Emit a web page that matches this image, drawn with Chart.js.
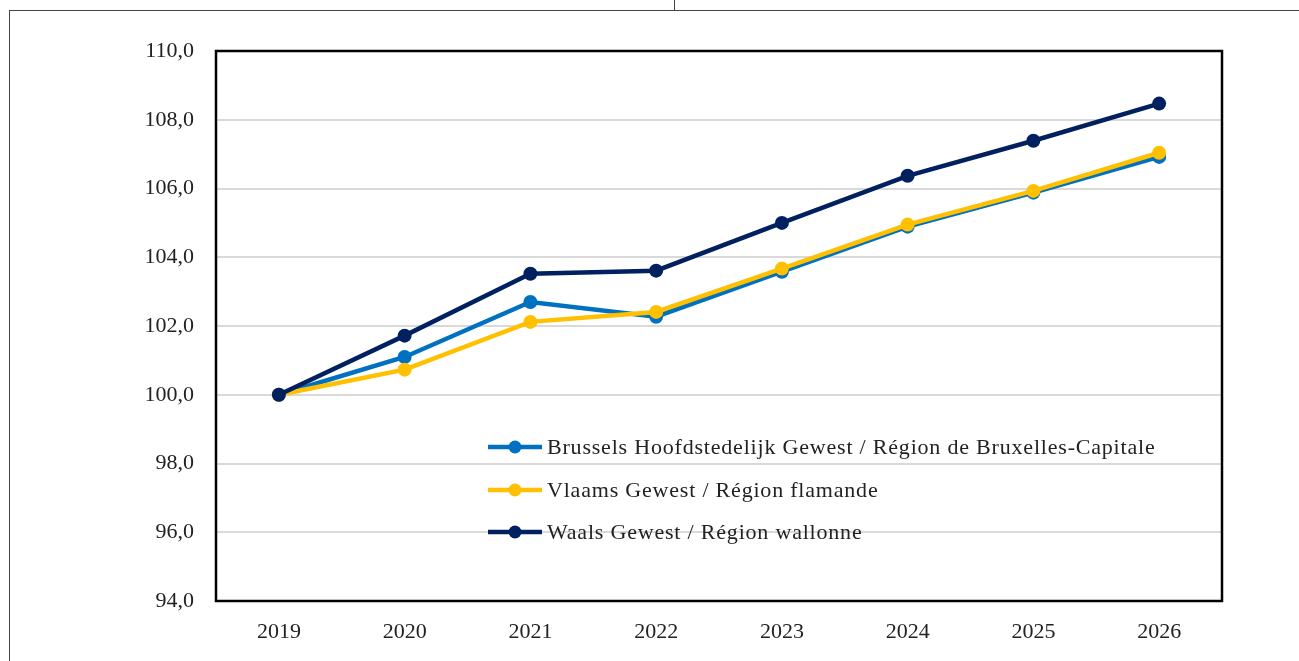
<!DOCTYPE html>
<html>
<head>
<meta charset="utf-8">
<script src="https://cdn.jsdelivr.net/npm/chart.js@4/dist/chart.umd.min.js"></script>
<style>
  html, body { margin: 0; padding: 0; background: #fff; }
  #wrap { position: relative; width: 1299px; height: 661px; overflow: hidden; }
  #chart { position: absolute; left: 0; top: 0; }
  .frameTop { position: absolute; left: 9px; top: 10px; width: 1290px; height: 0; border-top: 1px solid #444; }
  .frameLeft { position: absolute; left: 9px; top: 10px; width: 0; height: 651px; border-left: 1px solid #444; }
  .frameTick { position: absolute; left: 674px; top: 0; width: 0; height: 10px; border-left: 1px solid #444; }
</style>
</head>
<body>
<div id="wrap">
  <canvas id="chart" width="1299" height="661"></canvas>
  <div class="frameTop"></div>
  <div class="frameLeft"></div>
  <div class="frameTick"></div>
</div>
<script>
const years = ['2019', '2020', '2021', '2022', '2023', '2024', '2025', '2026'];
const seriesNames = [
  'Brussels Hoofdstedelijk Gewest / Région de Bruxelles-Capitale',
  'Vlaams Gewest / Région flamande',
  'Waals Gewest / Région wallonne'
];
const brussels = [100.0, 101.1, 102.7, 102.27, 103.58, 104.89, 105.88, 106.92];
const vlaams = [100.0, 100.73, 102.12, 102.41, 103.67, 104.95, 105.93, 107.04];
const waals = [100.0, 101.72, 103.52, 103.61, 105.0, 106.37, 107.39, 108.47];
const colors = ['#0070C0', '#FFC000', '#002060'];

const serif = "'Liberation Serif', 'DejaVu Serif', serif";

// cadre noir autour de la zone du graphique
const plotBorder = {
  id: 'plotBorder',
  afterDraw(chart) {
    const { ctx, chartArea: a } = chart;
    ctx.save();
    ctx.strokeStyle = '#000';
    ctx.lineWidth = 2.5;
    ctx.strokeRect(a.left, a.top, a.right - a.left, a.bottom - a.top);
    ctx.restore();
  }
};

// légende dessinée à l'intérieur du graphique
const innerLegend = {
  id: 'innerLegend',
  afterDatasetsDraw(chart) {
    const { ctx } = chart;
    const x0 = 488, lineW = 54, textX = 547;
    const rows = [447, 490, 532];
    ctx.save();
    chart.data.datasets.forEach((ds, i) => {
      const y = rows[i];
      ctx.strokeStyle = ds.borderColor;
      ctx.lineWidth = 4.5;
      ctx.beginPath();
      ctx.moveTo(x0, y);
      ctx.lineTo(x0 + lineW, y);
      ctx.stroke();
      ctx.fillStyle = ds.borderColor;
      ctx.beginPath();
      ctx.arc(x0 + lineW / 2, y, 6.5, 0, Math.PI * 2);
      ctx.fill();
      ctx.fillStyle = '#222';
      ctx.font = '22px ' + serif;
      ctx.letterSpacing = '0.8px';
      ctx.textBaseline = 'middle';
      ctx.textAlign = 'left';
      ctx.fillText(ds.label, textX, y + 1);
    });
    ctx.restore();
  }
};

function makeSet(label, data, color, order) {
  return {
    label,
    data,
    borderColor: color,
    backgroundColor: color,
    pointBackgroundColor: color,
    pointBorderColor: color,
    borderWidth: 4.5,
    pointRadius: 7,
    pointBorderWidth: 0,
    tension: 0,
    order
  };
}

new Chart(document.getElementById('chart').getContext('2d'), {
  type: 'line',
  data: {
    labels: years,
    datasets: [
      makeSet(seriesNames[0], brussels, colors[0], 2),
      makeSet(seriesNames[1], vlaams, colors[1], 1),
      makeSet(seriesNames[2], waals, colors[2], 0)
    ]
  },
  options: {
    responsive: false,
    animation: false,
    layout: { padding: { top: 51, right: 77, bottom: 0, left: 0 } },
    plugins: {
      legend: { display: false },
      tooltip: { enabled: false }
    },
    scales: {
      x: {
        offset: true,
        grid: { display: false, drawTicks: false },
        border: { display: false },
        ticks: {
          color: '#222',
          font: { family: serif, size: 22 },
          padding: 18,
          maxRotation: 0
        },
        afterFit(scale) { scale.height = 60; }
      },
      y: {
        min: 94,
        max: 110,
        grid: {
          color: (c) => (c.tick.value === 94 || c.tick.value === 110) ? 'rgba(0,0,0,0)' : '#d9d9d9',
          lineWidth: 2,
          drawTicks: false
        },
        border: { display: false },
        ticks: {
          stepSize: 2,
          color: '#222',
          font: { family: serif, size: 22 },
          padding: 22,
          callback: (v) => v.toFixed(1).replace('.', ',')
        },
        afterFit(scale) { scale.width = 216; }
      }
    }
  },
  plugins: [plotBorder, innerLegend]
});
</script>
</body>
</html>
